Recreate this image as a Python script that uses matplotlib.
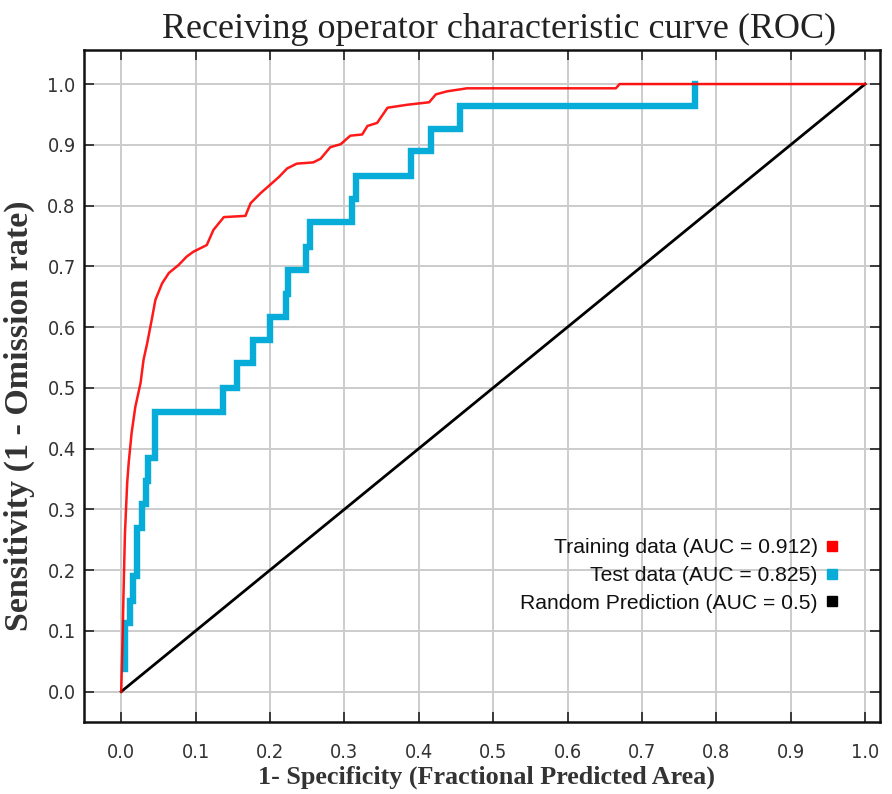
import matplotlib
matplotlib.use("Agg")
import matplotlib.pyplot as plt
from matplotlib.lines import Line2D

# ---------------- data ----------------
train_fpr = [0.0, 0.002, 0.003, 0.005, 0.008, 0.010, 0.014, 0.019, 0.026, 0.030,
             0.035, 0.041, 0.046, 0.055, 0.064, 0.077, 0.088, 0.097, 0.115, 0.124,
             0.138, 0.167, 0.174, 0.187, 0.200, 0.212, 0.223, 0.236, 0.258, 0.268,
             0.281, 0.295, 0.308, 0.324, 0.331, 0.344, 0.358, 0.385, 0.414, 0.423,
             0.438, 0.465, 0.665, 0.670, 1.0]
train_tpr = [0.0, 0.097, 0.157, 0.260, 0.343, 0.376, 0.426, 0.469, 0.508, 0.546,
             0.574, 0.612, 0.645, 0.672, 0.689, 0.702, 0.716, 0.724, 0.735, 0.760,
             0.781, 0.783, 0.804, 0.820, 0.834, 0.847, 0.861, 0.869, 0.871, 0.877,
             0.896, 0.901, 0.915, 0.917, 0.931, 0.936, 0.961, 0.966, 0.970, 0.983,
             0.988, 0.993, 0.993, 1.0, 1.0]

# test curve corners: vertical rise at previous fpr, then horizontal to this fpr
test_fpr = [0.005, 0.012, 0.016, 0.021, 0.028, 0.033, 0.036, 0.046, 0.137, 0.155,
            0.177, 0.200, 0.221, 0.224, 0.249, 0.254, 0.310, 0.315, 0.389, 0.417,
            0.456, 0.771, 0.771]
test_tpr = [0.038, 0.113, 0.149, 0.190, 0.270, 0.308, 0.346, 0.385, 0.461, 0.500,
            0.541, 0.579, 0.616, 0.655, 0.694, 0.732, 0.773, 0.811, 0.849, 0.889,
            0.926, 0.964, 1.0]

random_fpr = [0.0, 1.0]
random_tpr = [0.0, 1.0]

labels = ["Training data (AUC = 0.912)", "Test data (AUC = 0.825)",
          "Random Prediction (AUC = 0.5)"]
colors = ["#ff0000", "#08acd8", "#000000"]

ticks = [0.0, 0.1, 0.2, 0.3, 0.4, 0.5, 0.6, 0.7, 0.8, 0.9, 1.0]
tick_labels = ["0.0", "0.1", "0.2", "0.3", "0.4", "0.5", "0.6", "0.7", "0.8", "0.9", "1.0"]

title = "Receiving operator characteristic curve (ROC)"
xlabel = "1- Specificity (Fractional Predicted Area)"
ylabel = "Sensitivity (1 - Omission rate)"

serif = "Liberation Serif"
sans = "Liberation Sans"

# ---------------- figure ----------------
fig = plt.figure(figsize=(8.92, 7.94), dpi=100)
ax = fig.add_axes([0.0942, 0.0907, 0.8923, 0.8463])

ax.plot(random_fpr, random_tpr, color=colors[2], lw=2.0, zorder=3)
ax.plot(test_fpr, test_tpr, color=colors[1], lw=4.6, drawstyle="steps-pre",
        solid_joinstyle="miter", zorder=4)
ax.plot(train_fpr, train_tpr, color=colors[0], lw=1.8, alpha=0.9, zorder=5)

ax.set_xlim(-0.05, 1.02)
ax.set_ylim(-0.05, 1.056)
ax.set_xticks(ticks)
ax.set_yticks(ticks)
tick_font = dict(family="DejaVu Sans", stretch="condensed", size=14.3, color="#333333")
ax.set_xticklabels(tick_labels, **tick_font)
ax.set_yticklabels(tick_labels, **tick_font)
ax.tick_params(axis="both", direction="in", length=7, width=1.2,
               top=True, right=True, color="#222222")
ax.tick_params(axis="x", pad=15)
ax.tick_params(axis="y", pad=6)

ax.grid(True, color="#cccccc", lw=1.4)
ax.set_axisbelow(True)
for s in ax.spines.values():
    s.set_linewidth(1.8)
    s.set_color("#111111")

ax.set_title(title, family=serif, fontsize=26, color="#222222", pad=9, x=0.522)
ax.set_xlabel(xlabel, family=serif, fontsize=18.8, fontweight="bold", color="#333333")
ax.set_ylabel(ylabel, family=serif, fontsize=24.5, fontweight="bold", color="#333333")
ax.xaxis.set_label_coords(0.506, -0.065)
ax.xaxis.label.set_va("top")
ax.yaxis.set_label_coords(-0.062, 0.455)

handles = [Line2D([], [], ls="none", marker="s", ms=6.5, color=c) for c in colors]
leg = ax.legend(handles, labels, loc="center right", bbox_to_anchor=(0.972, 0.218),
                markerfirst=False, frameon=False, handlelength=0.6, handletextpad=0.4,
                labelspacing=0.42, prop={"family": sans, "size": 15.2})
for t in leg.get_texts():
    t.set_ha("right")
    t.set_color("#111111")

fig.savefig("out.png", dpi=100)
